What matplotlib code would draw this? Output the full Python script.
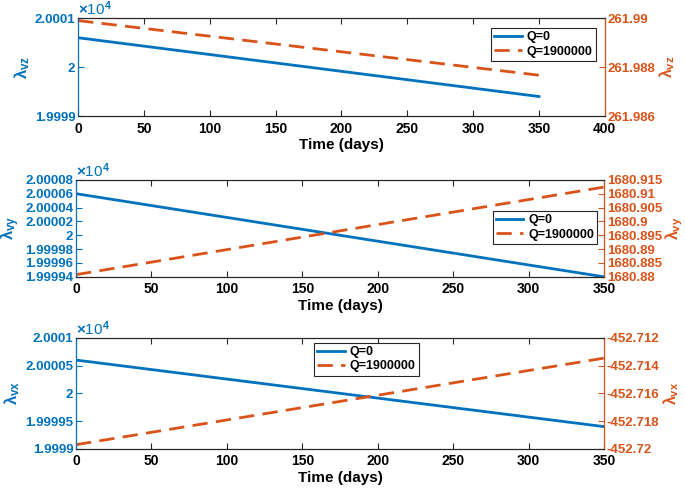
import matplotlib
matplotlib.use('Agg')
import matplotlib.pyplot as plt
from matplotlib.ticker import FuncFormatter, FixedLocator

plt.rcParams['font.family'] = ['Liberation Sans', 'DejaVu Sans']
plt.rcParams['mathtext.fontset'] = 'custom'
plt.rcParams['mathtext.rm'] = 'Liberation Sans:bold'
plt.rcParams['mathtext.it'] = 'Liberation Sans:bold'
plt.rcParams['mathtext.bf'] = 'Liberation Sans:bold'

BLUE = '#0072BD'
ORANGE = '#D95319'

# time (days)
t = [0, 350]

# lambda_vz
vz_q0 = [20000.6, 19999.4]
vz_q19 = [261.98990, 261.98767]
# lambda_vy
vy_q0 = [20000.6, 19999.4]
vy_q19 = [1680.8808, 1680.9124]
# lambda_vx
vx_q0 = [20000.6, 19999.4]
vx_q19 = [-452.7197, -452.71346]

labels = ['Q=0', 'Q=1900000']

panels = [
    dict(pos=[0.114, 0.763, 0.769, 0.200], q0=vz_q0, q19=vz_q19, name='vz',
         xlim=(0, 400), xticks=[0, 50, 100, 150, 200, 250, 300, 350, 400],
         ylim=(19999, 20001), yticks=[19999, 20000, 20001],
         rlim=(261.986, 261.990), rticks=[261.986, 261.988, 261.990],
         leg=dict(loc='upper right', bbox_to_anchor=(0.983, 0.90))),
    dict(pos=[0.111, 0.435, 0.771, 0.198], q0=vy_q0, q19=vy_q19, name='vy',
         xlim=(0, 350), xticks=[0, 50, 100, 150, 200, 250, 300, 350],
         ylim=(19999.4, 20000.8),
         yticks=[19999.4, 19999.6, 19999.8, 20000.0, 20000.2, 20000.4, 20000.6, 20000.8],
         rlim=(1680.88, 1680.915),
         rticks=[1680.88, 1680.885, 1680.89, 1680.895, 1680.90, 1680.905, 1680.91, 1680.915],
         leg=dict(loc='upper right', bbox_to_anchor=(0.987, 0.68))),
    dict(pos=[0.111, 0.084, 0.771, 0.2265], q0=vx_q0, q19=vx_q19, name='vx',
         xlim=(0, 350), xticks=[0, 50, 100, 150, 200, 250, 300, 350],
         ylim=(19999, 20001), yticks=[19999, 19999.5, 20000, 20000.5, 20001],
         rlim=(-452.720, -452.712),
         rticks=[-452.720, -452.718, -452.716, -452.714, -452.712],
         leg=dict(loc='upper center', bbox_to_anchor=(0.55, 0.955))),
]


def lfmt(v, p):
    s = f'{v / 1e4:.6f}'.rstrip('0').rstrip('.')
    return s


def rfmt(v, p):
    s = f'{v:.4f}'.rstrip('0').rstrip('.')
    return s


fig = plt.figure(figsize=(6.85, 4.9), dpi=100)

for p in panels:
    ax = fig.add_axes(p['pos'])
    ax2 = ax.twinx()
    l1, = ax.plot(t, p['q0'], color=BLUE, lw=2)
    l2, = ax2.plot(t, p['q19'], color=ORANGE, lw=2, ls=(0, (5.5, 3)))

    ax.set_xlim(p['xlim'])
    ax.set_xticks(p['xticks'])
    ax.set_ylim(p['ylim'])
    ax.yaxis.set_major_locator(FixedLocator(p['yticks']))
    ax.yaxis.set_major_formatter(FuncFormatter(lfmt))
    ax2.set_ylim(p['rlim'])
    ax2.yaxis.set_major_locator(FixedLocator(p['rticks']))
    ax2.yaxis.set_major_formatter(FuncFormatter(rfmt))

    ax.tick_params(axis='x', direction='in', top=True, labelsize=10, length=4,
                   color='#262626', pad=4)
    ax.tick_params(axis='y', direction='in', colors=BLUE, labelsize=9.5, length=4, pad=2)
    ax2.tick_params(axis='y', direction='in', colors=ORANGE, labelsize=9.5, length=4, pad=2)
    for lab in ax.get_xticklabels() + ax.get_yticklabels() + ax2.get_yticklabels():
        lab.set_fontweight('bold')

    for s in ['top', 'bottom']:
        ax2.spines[s].set_color('#262626')
    ax2.spines['left'].set_color(BLUE)
    ax2.spines['right'].set_color(ORANGE)

    ax.set_xlabel('Time (days)', fontsize=11, fontweight='bold', labelpad=2)
    ax.set_ylabel(r'$\lambda_{%s}$' % p['name'], color=BLUE, fontsize=12, labelpad=2)
    ax2.set_ylabel(r'$\lambda_{%s}$' % p['name'], color=ORANGE, fontsize=11.5,
                   rotation=90, labelpad=1)
    ax.text(0.0, 1.0, r'$\times$10$^4$', transform=ax.transAxes, color=BLUE,
            fontsize=11, ha='left', va='bottom', fontweight='normal')

    leg = ax2.legend([l1, l2], labels, fancybox=False, edgecolor='#262626',
                     framealpha=1, handlelength=2.2, handletextpad=0.4,
                     borderpad=0.25, labelspacing=0.2, borderaxespad=0,
                     prop=dict(weight='bold', size=9), **p['leg'])
    leg.get_frame().set_linewidth(0.8)

fig.savefig('out.png', dpi=100)
